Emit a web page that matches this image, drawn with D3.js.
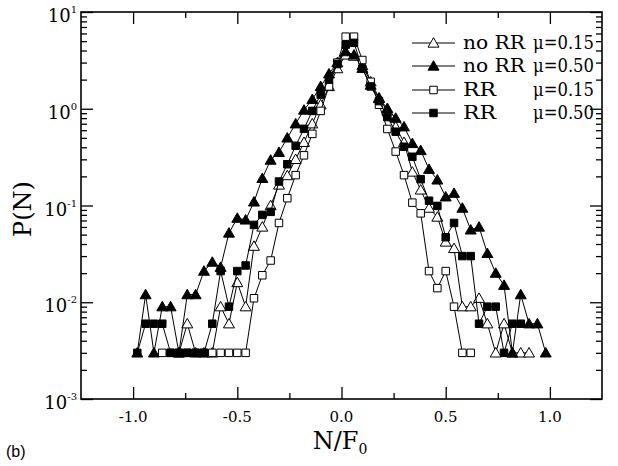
<!DOCTYPE html>
<html>
<head>
<meta charset="utf-8">
<title></title>
<style>
	body { margin: 0; background: #fff; }
	text { font-family: "DejaVu Serif", serif; fill: #000; }
</style>
</head>
<body>
	<div class="chart"></div>
	<script src="https://cdn.jsdelivr.net/npm/d3@7/dist/d3.min.js" charset="utf-8"></script>

	<script type="text/javascript">
		// bin centres N/F0
		var bins = [-0.98, -0.94, -0.90, -0.86, -0.82, -0.78, -0.74, -0.70, -0.66, -0.62,
			-0.58, -0.54, -0.50, -0.46, -0.42, -0.38, -0.34, -0.30, -0.26, -0.22,
			-0.18, -0.14, -0.10, -0.06, -0.02, 0.02, 0.06, 0.10, 0.14, 0.18,
			0.22, 0.26, 0.30, 0.34, 0.38, 0.42, 0.46, 0.50, 0.54, 0.58,
			0.62, 0.66, 0.70, 0.74, 0.78, 0.82, 0.86, 0.90, 0.94, 0.98];

		// P(N), null = no point in that bin
		var noRR015 = [null, null, null, null, null, 0.003, 0.006, 0.003, 0.003, 0.003,
			0.009, 0.006, 0.016, 0.009, 0.038, 0.060, 0.10, 0.163, 0.204, 0.30,
			0.45, 0.70, 1.1, 1.7, 2.6, 3.6, 3.5, 2.8, 1.9, 1.3,
			0.95, 0.65, 0.45, 0.222, 0.145, 0.094, 0.076, 0.042, 0.036, 0.009,
			0.009, 0.011, 0.006, 0.003, 0.006, 0.003, 0.003, 0.003, null, null];

		var noRR050 = [0.003, 0.012, 0.003, 0.009, 0.009, 0.003, 0.012, 0.012, 0.021, 0.026,
			0.023, 0.052, 0.074, 0.071, 0.109, 0.191, 0.295, 0.355, 0.50, 0.70,
			0.97, 1.25, 1.7, 2.3, 3.0, 3.9, 3.6, 2.62, 1.76, 1.28,
			1.01, 0.80, 0.652, 0.438, 0.371, 0.237, 0.184, 0.123, 0.134, 0.094,
			0.056, 0.060, 0.032, 0.020, 0.015, 0.003, 0.012, 0.006, 0.006, 0.003];

		var RR015 = [null, null, null, 0.003, 0.003, 0.003, 0.003, 0.003, 0.003, 0.003,
			0.003, 0.003, 0.003, 0.003, 0.011, 0.019, 0.027, 0.066, 0.119, 0.206,
			0.33, 0.55, 0.95, 1.7, 3.0, 5.56, 5.56, 3.19, 1.90, 1.1,
			0.618, 0.361, 0.206, 0.107, 0.083, 0.021, 0.014, 0.021, 0.009, 0.003,
			0.003, null, null, null, null, null, null, null, null, null];

		var RR050 = [0.003, 0.006, 0.006, 0.006, 0.003, 0.003, 0.003, 0.003, 0.003, 0.006,
			0.021, 0.009, 0.021, 0.024, 0.063, 0.080, 0.086, 0.177, 0.267, 0.414,
			0.62, 0.95, 1.4, 2.0, 2.9, 4.6, 4.8, 2.6, 1.7, 1.2,
			0.82, 0.579, 0.405, 0.319, 0.187, 0.112, 0.099, 0.047, 0.066, 0.030,
			0.030, 0.006, 0.009, 0.009, 0.003, 0.006, 0.006, null, null, null];

		var xTicks = [-1.0, -0.5, 0.0, 0.5, 1.0];
		var xMinor = [-0.75, -0.25, 0.25, 0.75];
		var yDecades = [-3, -2, -1, 0, 1];
		var legendNames = ["no RR", "no RR", "RR", "RR"];
		var legendMu = ["\u03bc=0.15", "\u03bc=0.50", "\u03bc=0.15", "\u03bc=0.50"];

		var width  = 618;
		var height = 466;
		var pLeft = 81, pRight = 602, pTop = 12, pBottom = 399;

		var svg = d3.select('.chart').append("svg").attr("width", width).attr("height", height);

		var x = d3.scaleLinear().domain([-1.25, 1.25]).range([pLeft, pRight]);
		var y = d3.scaleLog().domain([1e-3, 10]).range([pBottom, pTop]);

		// minor y ticks
		var yMinor = [];
		yDecades.forEach(function(d) {
			if (d < 1) for (var m = 2; m < 10; m++) yMinor.push(m * Math.pow(10, d));
		});
		var yMajor = yDecades.map(function(d) { return Math.pow(10, d); });

		function noLabels(a) { return a.tickFormat(function() { return ""; }).tickSizeOuter(0); }

		svg.append("g").attr("transform", "translate(0," + pBottom + ")")
			.call(noLabels(d3.axisBottom(x).tickValues(xTicks).tickSizeInner(-12)));
		svg.append("g").attr("transform", "translate(0," + pBottom + ")")
			.call(noLabels(d3.axisBottom(x).tickValues(xMinor).tickSizeInner(-6)));
		svg.append("g").attr("transform", "translate(0," + pTop + ")")
			.call(noLabels(d3.axisTop(x).tickValues(xTicks).tickSizeInner(-12)));
		svg.append("g").attr("transform", "translate(0," + pTop + ")")
			.call(noLabels(d3.axisTop(x).tickValues(xMinor).tickSizeInner(-6)));
		svg.append("g").attr("transform", "translate(" + pLeft + ",0)")
			.call(noLabels(d3.axisLeft(y).tickValues(yMajor).tickSizeInner(-12)));
		svg.append("g").attr("transform", "translate(" + pLeft + ",0)")
			.call(noLabels(d3.axisLeft(y).tickValues(yMinor).tickSizeInner(-6)));
		svg.append("g").attr("transform", "translate(" + pRight + ",0)")
			.call(noLabels(d3.axisRight(y).tickValues(yMajor).tickSizeInner(-12)));
		svg.append("g").attr("transform", "translate(" + pRight + ",0)")
			.call(noLabels(d3.axisRight(y).tickValues(yMinor).tickSizeInner(-6)));
		svg.selectAll(".domain").remove();
		svg.selectAll(".tick line").attr("stroke", "#000").attr("stroke-width", 1.3);

		svg.append("rect")
			.attr("x", pLeft).attr("y", pTop)
			.attr("width", pRight - pLeft).attr("height", pBottom - pTop)
			.attr("fill", "none").attr("stroke", "#000").attr("stroke-width", 1.6);

		// x tick labels
		svg.selectAll(".xl").data(xTicks).enter().append("text")
			.attr("x", function(d) { return x(d); })
			.attr("y", 422)
			.attr("text-anchor", "middle")
			.attr("font-size", 15)
			.text(function(d) { return d3.format(".1f")(d).replace("\u2212", "-"); });

		// y tick labels 10^n
		var yl = svg.selectAll(".yl").data(yDecades).enter().append("text")
			.attr("x", 77)
			.attr("y", function(d) { return y(Math.pow(10, d)) + 10; })
			.attr("text-anchor", "end")
			.attr("font-size", 18);
		yl.append("tspan").text("10");
		yl.append("tspan").attr("dy", -9).attr("font-size", 10).text(function(d) { return d; });

		// axis titles
		var xt = svg.append("text").attr("x", 340).attr("y", 449)
			.attr("text-anchor", "middle").attr("font-size", 24);
		xt.append("tspan").text("N/F");
		xt.append("tspan").attr("dy", 5).attr("font-size", 14).text("0");

		svg.append("text")
			.attr("transform", "translate(31,209) rotate(-90)")
			.attr("text-anchor", "middle").attr("font-size", 24)
			.text("P(N)");

		svg.append("text").attr("x", 6).attr("y", 457)
			.style("font-family", "'Liberation Sans', Arial, sans-serif")
			.attr("font-size", 16).text("(b)");

		// series
		var series = [
			{ vals: noRR015, shape: d3.symbolTriangle, fill: "#fff" },
			{ vals: noRR050, shape: d3.symbolTriangle, fill: "#000" },
			{ vals: RR015, shape: d3.symbolSquare, fill: "#fff" },
			{ vals: RR050, shape: d3.symbolSquare, fill: "#000" }
		];

		var line = d3.line()
			.defined(function(d) { return d.v != null; })
			.x(function(d) { return x(d.x); })
			.y(function(d) { return y(d.v); });

		series.forEach(function(s) {
			var pts = bins.map(function(b, i) { return { x: b, v: s.vals[i] }; })
				.filter(function(d) { return d.v != null; });
			svg.append("path").datum(pts)
				.attr("d", line)
				.attr("fill", "none").attr("stroke", "#000").attr("stroke-width", 1);
			var sym = d3.symbol().type(s.shape).size(s.shape === d3.symbolSquare ? 56 : 52);
			svg.selectAll(null).data(pts).enter().append("path")
				.attr("d", sym)
				.attr("transform", function(d) {
					var dy = s.shape === d3.symbolTriangle ? 1 : 0;
					return "translate(" + x(d.x) + "," + (y(d.v) + dy) + ")";
				})
				.attr("fill", s.fill).attr("stroke", "#000").attr("stroke-width", 1);
		});

		// legend
		var rows = [43, 66, 90, 113];
		series.forEach(function(s, i) {
			var g = svg.append("g");
			g.append("line").attr("x1", 412).attr("x2", 455)
				.attr("y1", rows[i]).attr("y2", rows[i])
				.attr("stroke", "#000").attr("stroke-width", 1);
			var sym = d3.symbol().type(s.shape).size(s.shape === d3.symbolSquare ? 56 : 52);
			g.append("path").attr("d", sym)
				.attr("transform", "translate(433.5," + (rows[i] + (s.shape === d3.symbolTriangle ? 1 : 0)) + ")")
				.attr("fill", s.fill).attr("stroke", "#000").attr("stroke-width", 1);
			g.append("text").attr("x", 463).attr("y", rows[i] + 6)
				.attr("font-size", 18)
				.attr("textLength", legendNames[i] === "RR" ? 33 : 62)
				.attr("lengthAdjust", "spacingAndGlyphs")
				.text(legendNames[i]);
			g.append("text").attr("x", 533).attr("y", rows[i] + 6)
				.attr("font-size", 18)
				.attr("textLength", 61)
				.attr("lengthAdjust", "spacingAndGlyphs")
				.text(legendMu[i]);
		});
	</script>
</body>
</html>
